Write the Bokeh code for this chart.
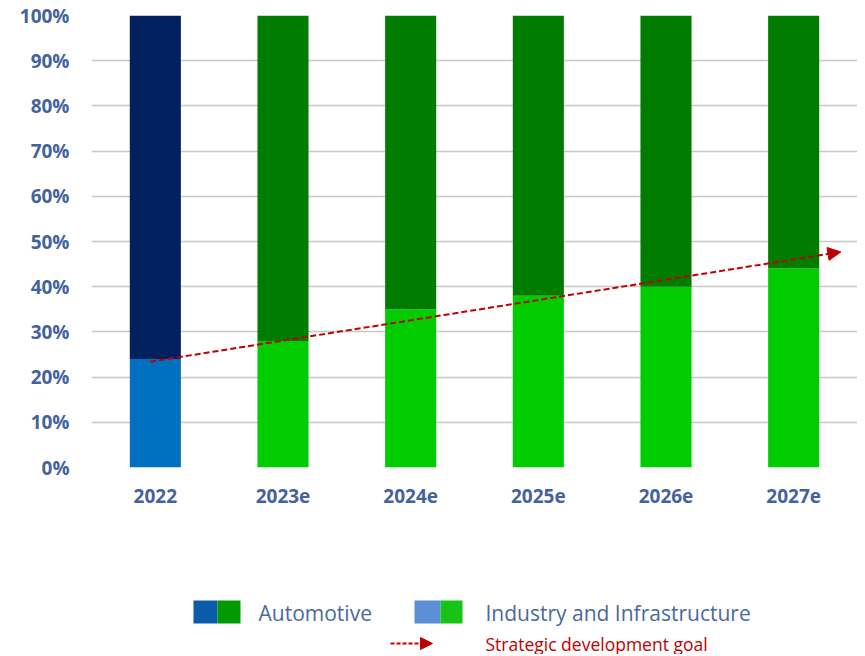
from bokeh.plotting import figure
from bokeh.models import (ColumnDataSource, FactorRange, Range1d, FixedTicker,
                          PrintfTickFormatter, Arrow, NormalHead)
from bokeh.layouts import column
from bokeh.embed import file_html
from bokeh.resources import INLINE
from bokeh.core.properties import value

# ---- data ----
years = ["2022", "2023e", "2024e", "2025e", "2026e", "2027e"]
industry = [24, 28, 35, 38, 40, 44]
automotive = [76, 72, 65, 62, 60, 56]
y_ticks = [0, 10, 20, 30, 40, 50, 60, 70, 80, 90, 100]
goal_x = [0.46, 5.87]          # synthetic categorical coordinates
goal_y = [23.4, 47.7]
legend_labels = ["Automotive", "Industry and Infrastructure", "Strategic development goal"]

# ---- styles ----
ind_colors = ["#0070C0", "#00CC00", "#00CC00", "#00CC00", "#00CC00", "#00CC00"]
auto_colors = ["#002060", "#007C00", "#007C00", "#007C00", "#007C00", "#007C00"]
label_color = "#44639E"
red = "#C00000"
FONT = "Open Sans"
W = 857
LEFT = 91
H_MAIN = 530
H_LEG = 124

bottoms = [0] * len(years)
tops_ind = industry
tops_auto = [i + a for i, a in zip(industry, automotive)]
src = ColumnDataSource(dict(x=years, b=bottoms, ti=tops_ind, ta=tops_auto,
                            ci=ind_colors, ca=auto_colors))

p = figure(x_range=FactorRange(*years), y_range=Range1d(0, 100),
           width=W, height=H_MAIN, output_backend="svg", toolbar_location=None,
           min_border_left=LEFT, min_border_right=0, min_border_top=15, min_border_bottom=63)
p.outline_line_color = None
p.background_fill_color = "white"
p.border_fill_color = "white"

p.vbar(x="x", bottom="b", top="ti", width=0.4, fill_color="ci", line_color=None, source=src)
p.vbar(x="x", bottom="ti", top="ta", width=0.4, fill_color="ca", line_color=None, source=src)

p.add_layout(Arrow(end=NormalHead(size=13, fill_color=red, line_color=red),
                   x_start=goal_x[0], y_start=goal_y[0], x_end=goal_x[1], y_end=goal_y[1],
                   line_color=red, line_width=2, line_dash="6 3"))

p.xgrid.grid_line_color = None
p.ygrid.grid_line_color = "#C8C8C8"
p.ygrid.grid_line_width = 1.5
p.yaxis.ticker = FixedTicker(ticks=y_ticks)
p.yaxis.formatter = PrintfTickFormatter(format="%d%%")
for ax in (p.xaxis[0], p.yaxis[0]):
    ax.axis_line_color = None
    ax.major_tick_line_color = None
    ax.minor_tick_line_color = None
    ax.major_label_text_color = label_color
    ax.major_label_text_font = FONT
    ax.major_label_text_font_style = "bold"
    ax.major_label_text_font_size = "19px"
p.yaxis.major_label_standoff = 16
p.xaxis.major_label_standoff = 15
p.x_range.range_padding = 0
p.x_range.group_padding = 0

# ---- legend figure (coordinates in page pixels) ----
lg = figure(x_range=Range1d(LEFT, W), y_range=Range1d(H_MAIN + H_LEG, H_MAIN),
            width=W, height=H_LEG, output_backend="svg", toolbar_location=None,
            min_border_left=LEFT, min_border_right=0, min_border_top=0, min_border_bottom=0,
            x_axis_location=None, y_axis_location=None)
lg.outline_line_color = None
lg.grid.visible = False

sw = ColumnDataSource(dict(
    l=[193, 217, 414, 440], r=[217, 240, 440, 462],
    t=[600, 600, 600, 600], b=[623, 623, 623, 623],
    c=["#0A5CA8", "#009A00", "#5A8FD5", "#16C416"]))
lg.quad(left="l", right="r", top="t", bottom="b", fill_color="c", line_color=None, source=sw)
lg.text(x=[258, 485], y=[612, 612], text=legend_labels[:2], text_font=value(FONT),
        text_font_size="21px", text_color="#4A6A9E", text_baseline="middle")
lg.text(x=[485], y=[643], text=legend_labels[2:], text_font=value(FONT),
        text_font_size="17.5px", text_color=red, text_baseline="middle")
lg.add_layout(Arrow(end=NormalHead(size=12, fill_color=red, line_color=red),
                    x_start=390, y_start=643, x_end=432, y_end=643,
                    line_color=red, line_width=2, line_dash="4 2"))

layout = column(p, lg, spacing=0)
open("out.html", "w").write(file_html(layout, INLINE))
